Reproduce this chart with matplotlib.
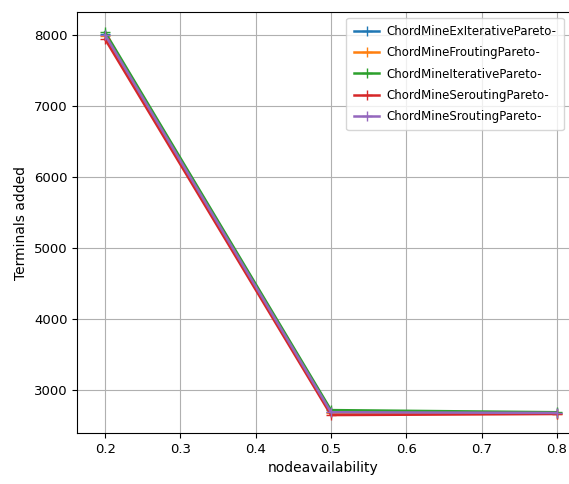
import matplotlib
matplotlib.use("Agg")
import matplotlib.pyplot as plt

# node availability on x, terminals added on y
x = [0.2, 0.5, 0.8]
names = ["ChordMineExIterativePareto-", "ChordMineFroutingPareto-",
         "ChordMineIterativePareto-", "ChordMineSeroutingPareto-",
         "ChordMineSroutingPareto-"]
exiterative = [8020, 2700, 2680]
frouting = [7990, 2680, 2670]
iterative = [8040, 2720, 2690]
serouting = [7940, 2650, 2665]
srouting = [8000, 2690, 2680]

series = [exiterative, frouting, iterative, serouting, srouting]

fig = plt.figure(figsize=(5.69, 4.84), dpi=100)
ax = fig.add_axes([0.136, 0.105, 0.865, 0.87])

for name, ys in zip(names, series):
    ax.plot(x, ys, marker="+", markersize=7, linewidth=1.8, label=name)

ax.set_xlim(0.163, 0.817)
ax.set_ylim(2395, 8324)
ax.set_xticks([0.2, 0.3, 0.4, 0.5, 0.6, 0.7, 0.8])
ax.set_xlabel("nodeavailability", fontsize=10)
ax.set_ylabel("Terminals added", fontsize=10)
ax.tick_params(labelsize=9.5)
ax.grid(True)
ax.legend(loc="upper right", fontsize=8.5, handlelength=2.2,
          labelspacing=0.7, borderpad=0.6, handletextpad=0.6)

fig.savefig("out.png", dpi=100)
